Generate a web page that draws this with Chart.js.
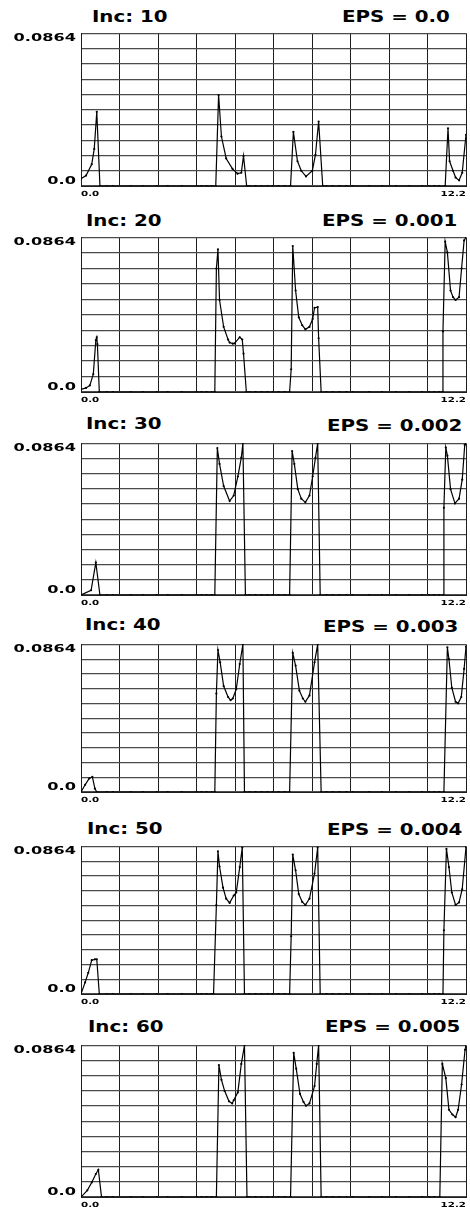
<!DOCTYPE html>
<html><head><meta charset="utf-8">
<script src="https://cdn.jsdelivr.net/npm/chart.js@4"></script>
<style>
html,body{margin:0;padding:0;background:#fff;}
body{width:470px;height:1207px;overflow:hidden;position:relative;font-family:"DejaVu Sans",sans-serif;}
.t{position:absolute;font-weight:bold;font-size:15px;line-height:15px;color:#000;white-space:nowrap;transform:scaleX(1.32);transform-origin:0 0;}
canvas{position:absolute;left:0;}
</style></head><body>
<script>
// ---- texts ----
const incLabels = ['Inc: 10', 'Inc: 20', 'Inc: 30', 'Inc: 40', 'Inc: 50', 'Inc: 60'];
const epsLabels = ['EPS = 0.0', 'EPS = 0.001', 'EPS = 0.002', 'EPS = 0.003', 'EPS = 0.004', 'EPS = 0.005'];
const xTickLabels = ['0.0', '12.2'];
const yTickLabels = ['0.0', '0.0864'];

// ---- data (x = path position, y = value) ----
const inc10X = [0, 0.16, 0.34, 0.42, 0.5, 0.6,
  0.82, 1.01, 1.58, 1.96, 2.4, 2.75, 3.19, 3.67, 3.82, 3.98, 4.14,
  4.27, 4.36, 4.45, 4.6, 4.8, 4.96, 5.08, 5.15, 5.25,
  5.34, 5.53, 5.72, 5.91, 6.07, 6.26, 6.45,
  6.64, 6.73, 6.86, 6.98, 7.13, 7.33, 7.43, 7.53, 7.66,
  7.78, 7.97, 8.19, 8.41, 8.6, 9.13, 9.54, 9.99, 10.4, 10.81, 11.03, 11.19, 11.35,
  11.54, 11.63, 11.68, 11.79, 11.87, 11.98, 12.08, 12.2];
const inc10Y = [0.0041, 0.0059, 0.0123, 0.021, 0.042, 0,
  0, 0, 0, 0, 0, 0, 0, 0, 0, 0, 0,
  0, 0.0515, 0.028, 0.0156, 0.0097, 0.007, 0.0075, 0.017, 0,
  0, 0, 0, 0, 0, 0, 0,
  0, 0.0306, 0.014, 0.0086, 0.0054, 0.0086, 0.0177, 0.0365, 0,
  0, 0, 0, 0, 0, 0, 0, 0, 0, 0, 0, 0, 0,
  0, 0.0327, 0.014, 0.0086, 0.0048, 0.0032, 0.0075, 0.029];

const inc20X = [0, 0.16, 0.28, 0.39, 0.47, 0.5, 0.52, 0.58,
  0.82, 1.01, 1.58, 1.96, 2.4, 2.75, 3.19, 3.67, 3.82, 3.98, 4.14,
  4.24, 4.29, 4.34, 4.39, 4.52, 4.66, 4.71, 4.81, 4.87, 5.03, 5.11, 5.15, 5.24,
  5.34, 5.53, 5.72, 5.91, 6.07, 6.26, 6.45,
  6.61, 6.66, 6.71, 6.8, 6.9, 7.01, 7.11, 7.24, 7.34, 7.4, 7.5, 7.53, 7.61,
  7.78, 7.97, 8.19, 8.41, 8.6, 9.13, 9.54, 9.99, 10.4, 10.81, 11.03, 11.19, 11.35,
  11.45, 11.47, 11.54, 11.61, 11.71, 11.79, 11.87, 11.98, 12.06, 12.14, 12.2];
const inc20Y = [0.0014, 0.0023, 0.0037, 0.010, 0.029, 0.0306, 0.0267, 0,
  0, 0, 0, 0, 0, 0, 0, 0, 0, 0, 0,
  0, 0.069, 0.0797, 0.0514, 0.0364, 0.0293, 0.0276, 0.027, 0.0272, 0.0306, 0.0293, 0.0214, 0,
  0, 0, 0, 0, 0, 0, 0,
  0, 0.0127, 0.0815, 0.0567, 0.0417, 0.0373, 0.035, 0.0364, 0.0408, 0.047, 0.0475, 0.030, 0,
  0, 0, 0, 0, 0, 0, 0, 0, 0, 0, 0, 0, 0,
  0, 0.0339, 0.084, 0.078, 0.0567, 0.053, 0.0514, 0.053, 0.069, 0.0847, 0.0864];

const inc30X = [0, 0.32, 0.47, 0.6,
  0.82, 1.01, 1.58, 1.96, 2.4, 2.75, 3.19, 3.67, 3.82, 3.98, 4.14,
  4.24, 4.32, 4.39, 4.52, 4.71, 4.84, 4.97, 5.08, 5.13, 5.21,
  5.34, 5.53, 5.72, 5.91, 6.07, 6.26, 6.45,
  6.61, 6.69, 6.76, 6.87, 6.98, 7.11, 7.24, 7.34, 7.43, 7.5, 7.58,
  7.78, 7.97, 8.19, 8.41, 8.6, 9.13, 9.54, 9.99, 10.4, 10.81, 11.03, 11.19, 11.35,
  11.48, 11.5, 11.56, 11.61, 11.71, 11.85, 11.98, 12.08, 12.16, 12.2];
const inc30Y = [0, 0.0027, 0.0185, 0,
  0, 0, 0, 0, 0, 0, 0, 0, 0, 0, 0,
  0, 0.0837, 0.0747, 0.0621, 0.0535, 0.0567, 0.0675, 0.0783, 0.0864, 0,
  0, 0, 0, 0, 0, 0, 0,
  0, 0.082, 0.0747, 0.0603, 0.0549, 0.0528, 0.0567, 0.0675, 0.0783, 0.0864, 0,
  0, 0, 0, 0, 0, 0, 0, 0, 0, 0, 0, 0, 0,
  0, 0.0497, 0.084, 0.0794, 0.0603, 0.0522, 0.0549, 0.0657, 0.0855, 0.0864];

const inc40X = [0, 0.13, 0.26, 0.36, 0.44, 0.5,
  0.82, 1.01, 1.58, 1.96, 2.4, 2.75, 3.19, 3.67, 3.82, 3.98, 4.14,
  4.24, 4.29, 4.34, 4.41, 4.52, 4.66, 4.74, 4.81, 4.92, 5.03, 5.13, 5.18,
  5.34, 5.53, 5.72, 5.91, 6.07, 6.26, 6.45,
  6.61, 6.71, 6.8, 6.92, 7.03, 7.11, 7.24, 7.4, 7.5, 7.61,
  7.78, 7.97, 8.19, 8.41, 8.6, 9.13, 9.54, 9.99, 10.4, 10.81, 11.03, 11.19, 11.35,
  11.5, 11.61, 11.66, 11.75, 11.87, 11.95, 12.05, 12.14, 12.2];
const inc40Y = [0, 0.0042, 0.0079, 0.0089, 0.002, 0,
  0, 0, 0, 0, 0, 0, 0, 0, 0, 0, 0,
  0, 0.0576, 0.0831, 0.0759, 0.062, 0.0556, 0.0537, 0.0547, 0.0602, 0.0749, 0.0864, 0,
  0, 0, 0, 0, 0, 0, 0,
  0, 0.0814, 0.074, 0.0593, 0.0547, 0.0528, 0.0565, 0.0759, 0.0864, 0,
  0, 0, 0, 0, 0, 0, 0, 0, 0, 0, 0, 0, 0,
  0, 0.0847, 0.0777, 0.061, 0.0528, 0.0519, 0.0556, 0.072, 0.0851];

const inc50X = [0, 0.13, 0.23, 0.34, 0.44, 0.5, 0.58,
  0.82, 1.01, 1.58, 1.96, 2.4, 2.75, 3.19, 3.67, 3.82, 3.98, 4.14,
  4.2, 4.29, 4.34, 4.39, 4.5, 4.6, 4.71, 4.84, 4.92, 5.03, 5.11, 5.18,
  5.34, 5.53, 5.72, 5.91, 6.07, 6.26, 6.45,
  6.61, 6.66, 6.71, 6.8, 6.9, 7.01, 7.11, 7.24, 7.4, 7.5, 7.58,
  7.78, 7.97, 8.19, 8.41, 8.6, 9.13, 9.54, 9.99, 10.4, 10.81, 11.03, 11.19, 11.35,
  11.47, 11.5, 11.58, 11.66, 11.75, 11.87, 11.98, 12.08, 12.2];
const inc50Y = [0, 0.0068, 0.0124, 0.0198, 0.0203, 0.0203, 0,
  0, 0, 0, 0, 0, 0, 0, 0, 0, 0, 0,
  0, 0.052, 0.0835, 0.0746, 0.0622, 0.0558, 0.0533, 0.0576, 0.0594, 0.0742, 0.0857, 0,
  0, 0, 0, 0, 0, 0, 0,
  0, 0.0338, 0.0816, 0.0724, 0.0585, 0.0539, 0.0521, 0.0558, 0.0705, 0.0857, 0,
  0, 0, 0, 0, 0, 0, 0, 0, 0, 0, 0, 0, 0,
  0, 0.0373, 0.0849, 0.0742, 0.0594, 0.0521, 0.0536, 0.0613, 0.086];

const inc60X = [0, 0.2, 0.34, 0.47, 0.55, 0.65,
  0.82, 1.01, 1.58, 1.96, 2.4, 2.75, 3.19, 3.67, 3.82, 3.98, 4.14,
  4.29, 4.37, 4.45, 4.55, 4.69, 4.79, 4.84, 4.97, 5.08, 5.18, 5.26,
  5.34, 5.53, 5.72, 5.91, 6.07, 6.26, 6.45,
  6.64, 6.74, 6.82, 6.94, 7.05, 7.13, 7.24, 7.4, 7.47, 7.53, 7.61,
  7.78, 7.97, 8.19, 8.41, 8.6, 9.13, 9.54, 9.99, 10.4, 10.81, 11.03, 11.19,
  11.37, 11.45, 11.56, 11.66, 11.77, 11.87, 11.95, 12.06, 12.17, 12.2];
const inc60Y = [0, 0.0038, 0.0083, 0.0131, 0.0155, 0,
  0, 0, 0, 0, 0, 0, 0, 0, 0, 0, 0,
  0, 0.0752, 0.0668, 0.0605, 0.0545, 0.0533, 0.0551, 0.0596, 0.0758, 0.0864, 0,
  0, 0, 0, 0, 0, 0, 0,
  0, 0.0821, 0.0731, 0.0587, 0.0542, 0.052, 0.0533, 0.0632, 0.0758, 0.0864, 0,
  0, 0, 0, 0, 0, 0, 0, 0, 0, 0, 0, 0,
  0, 0.0758, 0.0677, 0.0497, 0.047, 0.0455, 0.0497, 0.0641, 0.0839, 0.0864];

const seriesX = [inc10X, inc20X, inc30X, inc40X, inc50X, inc60X];
const seriesY = [inc10Y, inc20Y, inc30Y, inc40Y, inc50Y, inc60Y];

// ---- layout (page pixels) ----
const plotBoxes = [[25,186],[229,392],[435,595],[636,792],[838,994],[1037,1197]];
const incPos = [[92,10],[86,214],[86,417],[85,618],[87,822],[88,1020]];
const epsPos = [[342,10],[322,214],[327,419],[323,620],[327,823],[325,1020]];

// wide lettering like the reference: stretch each text run horizontally about its anchor
const TEXT_STRETCH = 1.47;
const stretch = { id: 'stretch', beforeInit(chart) {
  const ctx = chart.ctx; const orig = ctx.fillText.bind(ctx);
  ctx.fillText = function (text, x, y, maxWidth) {
    ctx.save(); ctx.translate(x, y); ctx.scale(TEXT_STRETCH, 1);
    if (maxWidth === undefined || maxWidth === null) orig(text, 0, 0); else orig(text, 0, 0, maxWidth / TEXT_STRETCH);
    ctx.restore();
  };
}};
const FONT = 'DejaVu Sans';

for (let i = 0; i < 6; i++) {
  const a = document.createElement('div'); a.className = 't'; a.textContent = incLabels[i];
  a.style.left = incPos[i][0] + 'px'; a.style.top = incPos[i][1] + 'px'; document.body.appendChild(a);
  const b = document.createElement('div'); b.className = 't'; b.textContent = epsLabels[i];
  b.style.left = epsPos[i][0] + 'px'; b.style.top = epsPos[i][1] + 'px'; document.body.appendChild(b);

  const [top, bottom] = plotBoxes[i];
  const padTop = 6, xAxisH = 16;
  const cv = document.createElement('canvas');
  cv.width = 470; cv.height = bottom - top + padTop + xAxisH;
  cv.style.top = (top - padTop) + 'px';
  document.body.appendChild(cv);

  const xs = seriesX[i], ys = seriesY[i];
  new Chart(cv, {
    type: 'line',
    data: { datasets: [{
      data: xs.map((x, k) => ({ x: x, y: ys[k] })),
      borderColor: '#000', borderWidth: 1.2, tension: 0,
      pointRadius: 1.1, pointBackgroundColor: '#000', pointBorderWidth: 0, pointHoverRadius: 0
    }]},
    options: {
      responsive: false, animation: false, devicePixelRatio: 1,
      layout: { padding: { top: padTop, left: 0, right: 3, bottom: 0 } },
      plugins: { legend: { display: false }, tooltip: { enabled: false }, title: { display: false } },
      scales: {
        x: {
          type: 'linear', min: 0, max: 12.2,
          afterFit: s => { s.height = xAxisH; },
          ticks: { stepSize: 1.22, autoSkip: false, maxRotation: 0, align: 'inner', padding: 4,
            color: '#000', font: { family: FONT, weight: 'bold', size: 7 },
            callback: (v, idx, t) => idx === 0 ? xTickLabels[0] : (idx === t.length - 1 ? xTickLabels[1] : '') },
          grid: { color: '#1e1e1e', lineWidth: 1, drawTicks: false },
          border: { color: '#1e1e1e', width: 1 }
        },
        y: {
          type: 'linear', min: 0, max: 0.0864,
          afterFit: s => { s.width = 81; },
          ticks: { stepSize: 0.00864, autoSkip: false, padding: 5,
            color: '#000', font: { family: FONT, weight: 'bold', size: 11, lineHeight: 0.85 },
            callback: (v, idx, t) => idx === 0 ? [yTickLabels[0], ''] : (idx === t.length - 1 ? ['', yTickLabels[1]] : '') },
          grid: { color: '#4a4a4a', lineWidth: 1.2, drawTicks: false },
          border: { color: '#1e1e1e', width: 1 }
        }
      }
    },
    plugins: [stretch]
  });
}
</script>
</body></html>
